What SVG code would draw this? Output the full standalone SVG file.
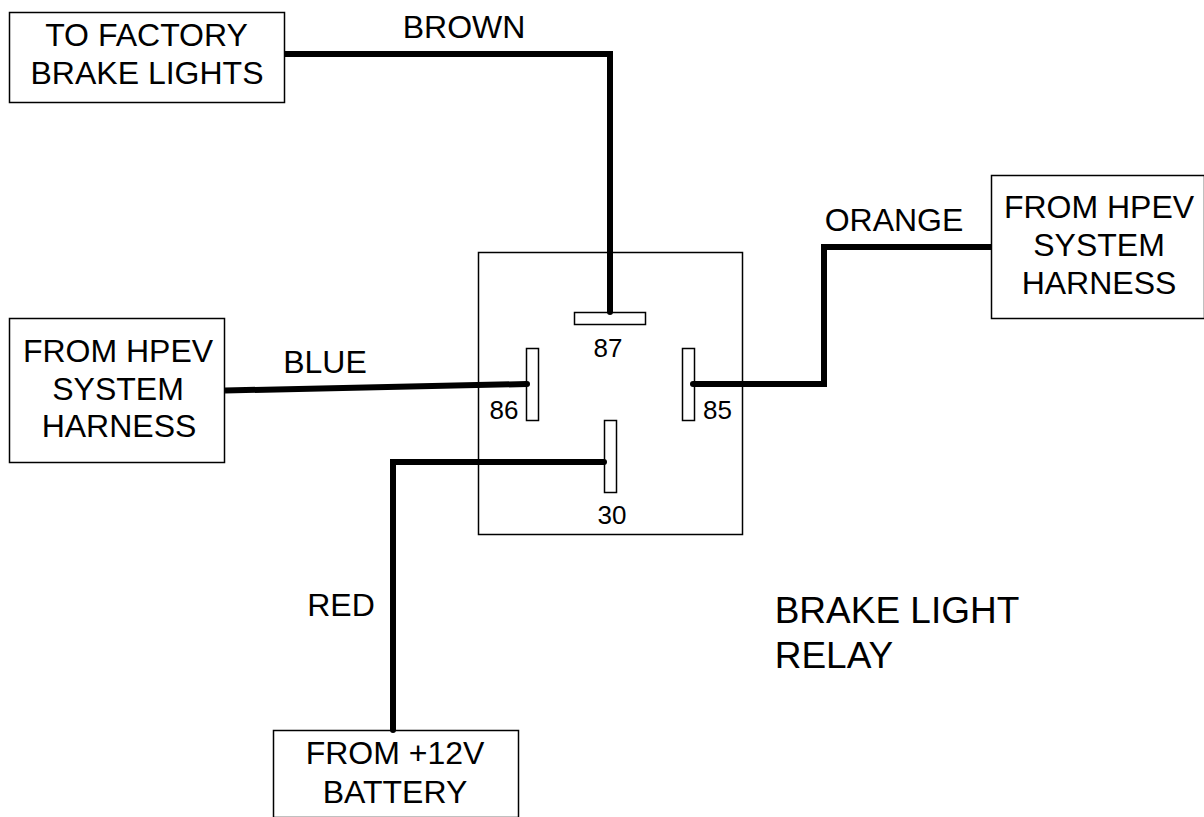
<svg xmlns="http://www.w3.org/2000/svg" width="1204" height="817" viewBox="0 0 1204 817">
<style>
text{font-family:"Liberation Sans",Arial,sans-serif;font-size:32px;fill:#000;text-anchor:middle}
.box{fill:#fff;stroke:#000;stroke-width:1.5}
.wire{fill:none;stroke:#000;stroke-width:6;stroke-linejoin:miter}
.pin{font-size:26px}
.big{font-size:37px}
</style>
<rect width="1204" height="817" fill="#fff"/>
<g id="relay"><rect class="box" x="478.500" y="252.500" width="264" height="282"/></g>
<g id="pin87"><rect class="box" x="574.500" y="312.500" width="71" height="12"/><text class="pin" x="608" y="357">87</text></g>
<g id="pin86"><rect class="box" x="526.500" y="348.500" width="12" height="72"/><text class="pin" x="504" y="419">86</text></g>
<g id="pin85"><rect class="box" x="682.500" y="348.500" width="12" height="72"/><text class="pin" x="717.500" y="419">85</text></g>
<g id="pin30"><rect class="box" x="604.500" y="420.500" width="12" height="72"/><text class="pin" x="612" y="524">30</text></g>
<g id="brake"><rect class="box" x="9.500" y="12.500" width="275" height="90"/><text x="146.500" y="46">TO FACTORY</text><text x="147" y="84">BRAKE LIGHTS</text></g>
<g id="hpev-left"><rect class="box" x="9.500" y="318.500" width="215" height="144"/><text x="118" y="362">FROM HPEV</text><text x="118" y="400">SYSTEM</text><text x="119" y="437">HARNESS</text></g>
<g id="hpev-right"><rect class="box" x="991.500" y="175.500" width="213" height="143"/><text x="1099" y="218">FROM HPEV</text><text x="1099" y="256">SYSTEM</text><text x="1099" y="294">HARNESS</text></g>
<g id="battery"><rect class="box" x="273.500" y="730.500" width="245" height="87"/><text x="395" y="764">FROM +12V</text><text x="395" y="803">BATTERY</text></g>
<g id="connectors">
<path class="wire" d="M285 54H610V312"/>
<path class="wire" d="M225 390.500L527 384"/>
<path class="wire" d="M693 384H824V247H991"/>
<path class="wire" d="M604 462H393V730"/>
<circle cx="610" cy="312" r="3"/><circle cx="527" cy="384" r="3"/><circle cx="693" cy="384" r="3"/><circle cx="604" cy="462" r="3"/><circle cx="393" cy="730" r="3"/>
</g>
<g id="labels">
<text x="464" y="38">BROWN</text>
<text x="894" y="231">ORANGE</text>
<text x="325" y="373">BLUE</text>
<text x="341" y="616">RED</text>
<text class="big" x="897" y="623">BRAKE LIGHT</text>
<text class="big" x="834" y="668">RELAY</text>
</g>
</svg>
